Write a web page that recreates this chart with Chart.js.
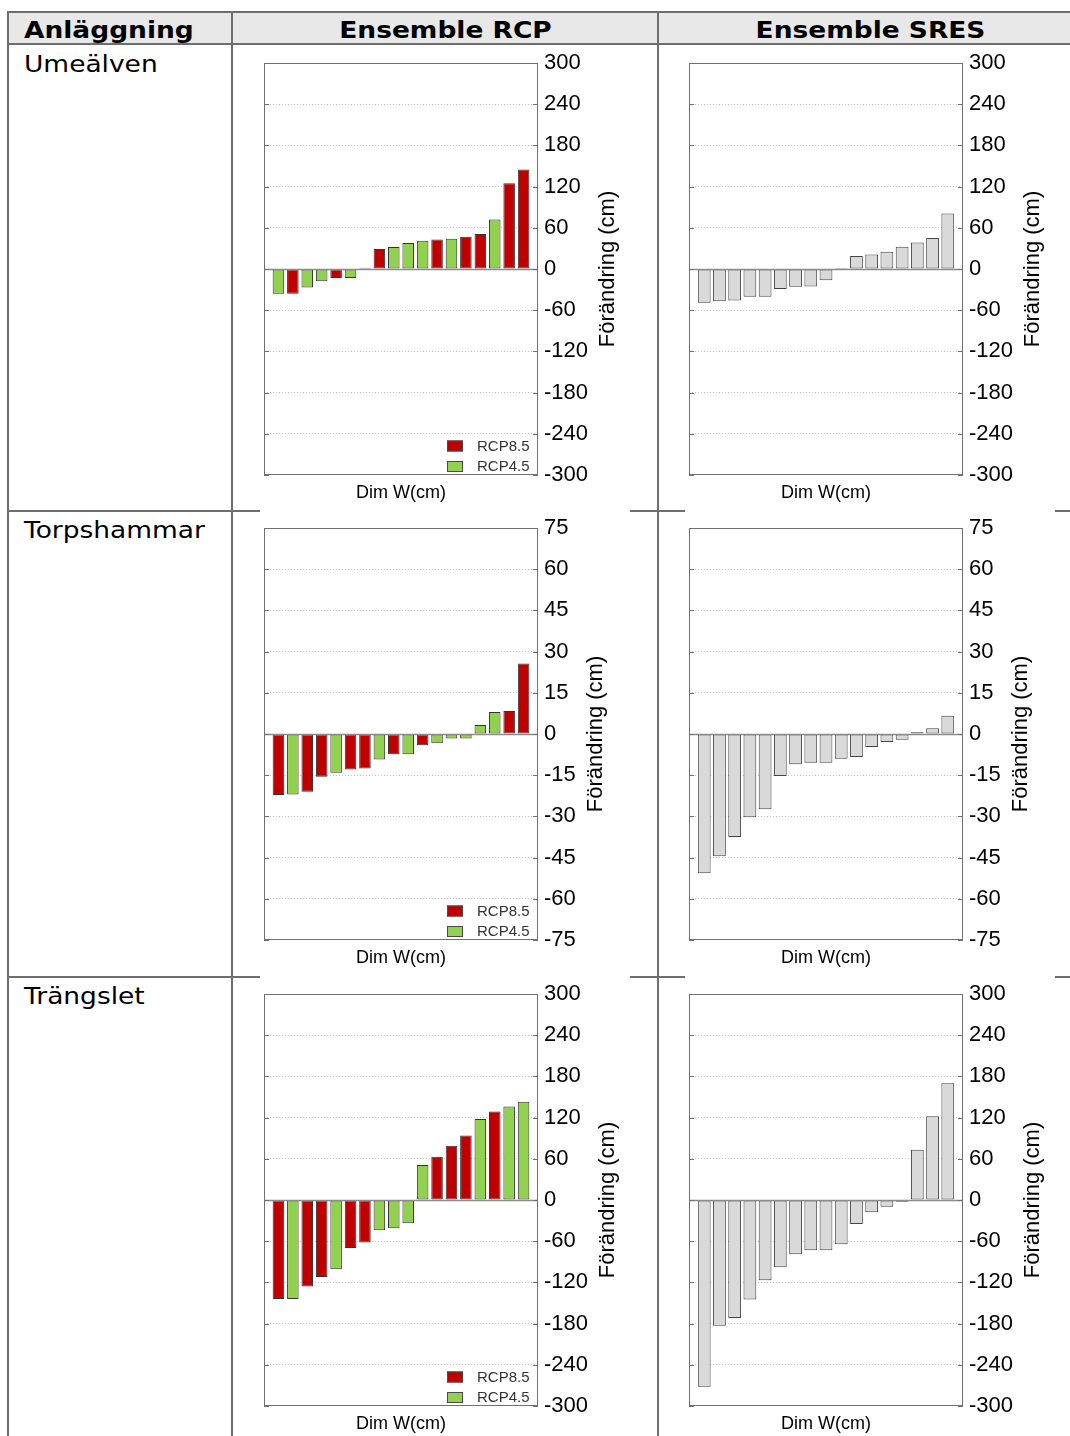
<!DOCTYPE html>
<html>
<head>
<meta charset="utf-8">
<script src="https://cdn.jsdelivr.net/npm/chart.js@4.4.0/dist/chart.umd.min.js"></script>
<style>
  body { margin: 0; background: #fff; width: 1070px; height: 1436px; overflow: hidden; position: relative;
         font-family: "DejaVu Sans", Verdana, sans-serif; }
  .ln { position: absolute; background: #6e6e6e; }
  .txt { position: absolute; font-size: 23px; line-height: 30px; white-space: nowrap; color: #000;
         transform: scaleX(1.15); transform-origin: left center; }
  .ctr { text-align: center; transform-origin: center center; }
  .hd { font-weight: bold; }
  .cell { position: absolute; width: 370px; height: 463px; }
</style>
</head>
<body>
<div style="position:absolute;left:8px;top:12px;width:1070px;height:32px;background:#e8e8e8"></div>

<div class="ln" style="left:7px;top:11px;width:1070px;height:2px"></div>
<div class="ln" style="left:7px;top:43px;width:1070px;height:2px"></div>
<div class="ln" style="left:7px;top:11px;width:2px;height:1430px"></div>
<div class="ln" style="left:231px;top:11px;width:2px;height:1430px"></div>
<div class="ln" style="left:657px;top:11px;width:2px;height:1430px"></div>

<div class="ln" style="left:7px;top:510px;width:253px;height:2px"></div>
<div class="ln" style="left:630px;top:510px;width:55px;height:2px"></div>
<div class="ln" style="left:1055px;top:510px;width:20px;height:2px"></div>
<div class="ln" style="left:7px;top:976px;width:253px;height:2px"></div>
<div class="ln" style="left:630px;top:976px;width:55px;height:2px"></div>
<div class="ln" style="left:1055px;top:976px;width:20px;height:2px"></div>

<div class="txt hd" style="left:24px;top:15px">Anläggning</div>
<div class="txt hd ctr" style="left:233px;top:15px;width:425px">Ensemble RCP</div>
<div class="txt hd ctr" style="left:658px;top:15px;width:425px">Ensemble SRES</div>

<div class="txt" style="left:24px;top:49px">Umeälven</div>
<div class="txt" style="left:24px;top:515px">Torpshammar</div>
<div class="txt" style="left:24px;top:981px">Trängslet</div>

<div class="cell" style="left:260px;top:49px"><canvas id="umeRcp" width="370" height="463"></canvas></div>
<div class="cell" style="left:685px;top:49px"><canvas id="umeSres" width="370" height="463"></canvas></div>
<div class="cell" style="left:260px;top:514px"><canvas id="torpRcp" width="370" height="463"></canvas></div>
<div class="cell" style="left:685px;top:514px"><canvas id="torpSres" width="370" height="463"></canvas></div>
<div class="cell" style="left:260px;top:980px"><canvas id="trangRcp" width="370" height="463"></canvas></div>
<div class="cell" style="left:685px;top:980px"><canvas id="trangSres" width="370" height="463"></canvas></div>

<script>
// change per ensemble member, sorted (cm)
const umeRcpValues = [-36, -36, -27, -18, -13, -13, 2, 29, 32, 38, 41, 43, 44, 47, 51, 72, 125, 145]
const umeRcpScenario = ['4.5', '8.5', '4.5', '4.5', '8.5', '4.5', '8.5', '8.5', '4.5', '4.5', '4.5', '8.5', '4.5', '8.5', '8.5', '4.5', '8.5', '8.5']
const umeSresValues = [-49, -47, -46, -40.5, -40.5, -29, -26, -25.5, -16.5, 1.5, 19, 21, 25, 32.5, 38.5, 45, 81]

const torpRcpValues = [-22.2, -22, -21, -15.6, -14.1, -12.9, -12.6, -9.3, -7.4, -7.4, -4.1, -3.4, -1.6, -1.6, 3.3, 8, 8.4, 25.7]
const torpRcpScenario = ['8.5', '4.5', '8.5', '8.5', '4.5', '8.5', '8.5', '4.5', '8.5', '4.5', '8.5', '4.5', '4.5', '4.5', '4.5', '4.5', '8.5', '8.5']
const torpSresValues = [-50.7, -44.5, -37.5, -30.3, -27.4, -15.3, -11, -10.5, -10.5, -9, -8.4, -4.7, -2.9, -2.1, 0.6, 2.1, 6.6]

const trangRcpValues = [-144, -144, -126, -112, -101, -70, -62, -44, -41, -34, 51, 63, 79, 94, 118, 129, 136, 143]
const trangRcpScenario = ['8.5', '4.5', '8.5', '8.5', '4.5', '8.5', '8.5', '4.5', '4.5', '4.5', '4.5', '8.5', '8.5', '8.5', '4.5', '8.5', '4.5', '4.5']
const trangSresValues = [-272, -183, -172, -145, -117, -98, -79, -73, -73, -64.5, -35, -18, -10, -2.5, 73, 122, 170]

// y axis tick ranges
const bigAxis = [-300, 300, 60]
const smallAxis = [-75, 75, 15]

const scenarioNames = { '8.5': 'RCP8.5', '4.5': 'RCP4.5' }
const scenarioColors = { '8.5': '#c00000', '4.5': '#92d050' }
const sresColor = '#d9d9d9'

const yTitle = 'Förändring (cm)'
const xTitle = 'Dim W(cm)'

Chart.defaults.font.family = '"Liberation Sans", Arial, sans-serif'
Chart.defaults.color = '#000'

const framePlugin = {
    id: 'frame',
    afterDatasetsDraw(chart) {
        const { ctx, chartArea: a, scales: { y } } = chart
        const y0 = Math.round(y.getPixelForValue(0)) + 0.5
        ctx.save()
        ctx.strokeStyle = '#8c8c8c'
        ctx.lineWidth = 1.5
        ctx.beginPath()
        ctx.moveTo(a.left, y0)
        ctx.lineTo(a.right, y0)
        ctx.stroke()
        ctx.restore()
    },
    afterDraw(chart, args, opts) {
        const { ctx, chartArea: a, scales: { y } } = chart
        ctx.save()
        // frame + inner tick marks
        ctx.strokeStyle = '#707070'
        ctx.lineWidth = 1
        ctx.strokeRect(a.left + 0.5, a.top + 0.5, a.right - a.left - 1, a.bottom - a.top - 1)
        y.ticks.forEach(t => {
            const py = Math.round(y.getPixelForValue(t.value)) + 0.5
            ctx.beginPath()
            ctx.moveTo(a.left, py); ctx.lineTo(a.left + 5, py)
            ctx.moveTo(a.right - 5, py); ctx.lineTo(a.right, py)
            ctx.stroke()
        })

        // axis titles
        ctx.fillStyle = '#000'
        ctx.font = '22px "Liberation Sans", Arial, sans-serif'
        let widest = 0
        y.ticks.forEach(t => { widest = Math.max(widest, ctx.measureText(t.label).width) })
        ctx.textAlign = 'center'
        ctx.textBaseline = 'middle'
        ctx.save()
        ctx.translate(a.right + 6 + widest + 20, (a.top + a.bottom) / 2)
        ctx.rotate(-Math.PI / 2)
        ctx.fillText(yTitle, 0, 0)
        ctx.restore()
        ctx.font = '18px "Liberation Sans", Arial, sans-serif'
        ctx.fillText(xTitle, (a.left + a.right) / 2, a.bottom + 18)

        // legend in lower right corner
        if (opts.legend) {
            ctx.font = '15px "Liberation Sans", Arial, sans-serif'
            ctx.textAlign = 'left'
            chart.data.datasets.forEach((ds, i) => {
                const cy = a.bottom - 29 + i * 20.5
                ctx.fillStyle = ds.backgroundColor
                ctx.fillRect(a.right - 91, cy - 5.5, 16, 11)
                ctx.strokeStyle = '#4a4a4a'
                ctx.strokeRect(a.right - 90.5, cy - 5, 15, 10)
                ctx.fillStyle = '#333'
                ctx.fillText(ds.label, a.right - 61, cy + 0.5)
            })
        }
        ctx.restore()
    }
}

function makeChart(id, values, scenario, axis) {
    const labels = ['', ...values.map((v, i) => String(i + 1)), '']
    const pad = arr => [null, ...arr, null]
    let datasets
    if (scenario) {
        datasets = ['8.5', '4.5'].map(s => ({
            label: scenarioNames[s],
            data: pad(values.map((v, i) => scenario[i] === s ? v : null)),
            backgroundColor: scenarioColors[s],
            borderColor: '#333'
        }))
    } else {
        datasets = [{ label: 'SRES', data: pad(values), backgroundColor: sresColor, borderColor: '#444' }]
    }
    datasets.forEach(ds => {
        ds.borderWidth = 1
        ds.borderSkipped = false
        ds.barPercentage = scenario ? 0.8 : 0.84
        ds.categoryPercentage = 1
        ds.grouped = false
    })

    const [min, max, step] = axis
    new Chart(document.getElementById(id), {
        type: 'bar',
        data: { labels, datasets },
        plugins: [framePlugin],
        options: {
            responsive: false,
            animation: false,
            layout: { padding: { left: 4, top: 14, right: 32, bottom: 37 } },
            plugins: {
                legend: { display: false },
                tooltip: { enabled: false },
                frame: { legend: !!scenario }
            },
            scales: {
                x: { display: false, offset: false },
                y: {
                    position: 'right',
                    min, max,
                    afterFit(scale) {
                        scale.width = 60
                        scale.paddingTop = 0
                        scale.paddingBottom = 0
                    },
                    ticks: { stepSize: step, padding: 6, font: { size: 22 }, color: '#000' },
                    grid: {
                        drawTicks: false,
                        color: c => (c.tick.value === 0 || c.tick.value === min || c.tick.value === max) ? 'rgba(0,0,0,0)' : '#c4c4c4',
                        lineWidth: 1
                    },
                    border: { display: false, dash: [1, 2] }
                }
            }
        }
    })
}

makeChart('umeRcp', umeRcpValues, umeRcpScenario, bigAxis)
makeChart('umeSres', umeSresValues, null, bigAxis)
makeChart('torpRcp', torpRcpValues, torpRcpScenario, smallAxis)
makeChart('torpSres', torpSresValues, null, smallAxis)
makeChart('trangRcp', trangRcpValues, trangRcpScenario, bigAxis)
makeChart('trangSres', trangSresValues, null, bigAxis)
</script>
</body>
</html>
